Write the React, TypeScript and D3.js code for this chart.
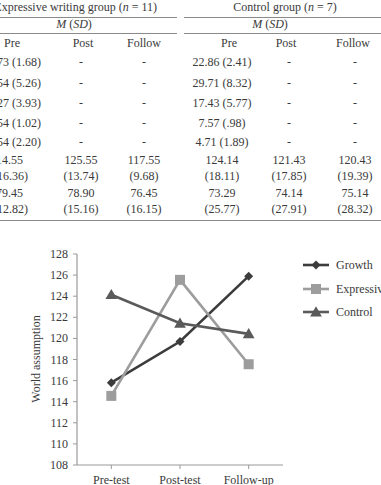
import React from "react";
import * as d3 from "d3";

// ---------- Table data ----------
const groupHeaders = ["Expressive writing group (n = 11)", "Control group (n = 7)"];
const statHeader = "M (SD)";
const phaseHeaders = ["Pre", "Post", "Follow"];
// visible (cropped) first column of expressive group
const expressivePre = ["73 (1.68)", "54 (5.26)", "27 (3.93)", "54 (1.02)", "54 (2.20)"];
const expressivePost = ["-", "-", "-", "-", "-"];
const expressiveFollow = ["-", "-", "-", "-", "-"];
const controlPre = ["22.86 (2.41)", "29.71 (8.32)", "17.43 (5.77)", "7.57 (.98)", "4.71 (1.89)"];
const controlPost = ["-", "-", "-", "-", "-"];
const controlFollow = ["-", "-", "-", "-", "-"];
// two-line rows: [mean, (sd)]
const worldRowExpressive = [["14.55", "16.36)"], ["125.55", "(13.74)"], ["117.55", "(9.68)"]];
const worldRowControl = [["124.14", "(18.11)"], ["121.43", "(17.85)"], ["120.43", "(19.39)"]];
const lastRowExpressive = [["79.45", "12.82)"], ["78.90", "(15.16)"], ["76.45", "(16.15)"]];
const lastRowControl = [["73.29", "(25.77)"], ["74.14", "(27.91)"], ["75.14", "(28.32)"]];

// ---------- Chart data ----------
const phases = ["Pre-test", "Post-test", "Follow-up"];
const seriesNames = ["Growth", "Expressive", "Control"];
const growthValues = [115.8, 119.7, 125.9];
const expressiveValues = [114.55, 125.55, 117.55];
const controlValues = [124.14, 121.43, 120.43];
const yTicks = [108, 110, 112, 114, 116, 118, 120, 122, 124, 126, 128];
const yLabel = "World assumption";

const FONT = "'Liberation Serif', 'Times New Roman', serif";
const TXT = "#3a3a3a";

export default function App() {
  const W = 381, H = 485;
  const y = d3.scaleLinear().domain([108, 128]).range([465, 254]);
  const x = d3.scalePoint<string>().domain(phases).range([77, 283]).padding(0.5);

  const series = [
    { name: seriesNames[0], values: growthValues, color: "#3c3c3c", sym: "diamond" },
    { name: seriesNames[1], values: expressiveValues, color: "#9d9d9d", sym: "square" },
    { name: seriesNames[2], values: controlValues, color: "#5a5a5a", sym: "triangle" },
  ];
  const line = d3.line<number>().x((_, i) => x(phases[i]) as number).y((v) => y(v));

  const marker = (sym: string, cx: number, cy: number, color: string, key: string) => {
    if (sym === "diamond") {
      const p = d3.symbol(d3.symbolSquare, 40)() as string;
      return <path key={key} d={p} transform={`translate(${cx},${cy}) rotate(45)`} fill={color} />;
    }
    if (sym === "square") {
      const p = d3.symbol(d3.symbolSquare, 100)() as string;
      return <path key={key} d={p} transform={`translate(${cx},${cy})`} fill={color} />;
    }
    const p = d3.symbol(d3.symbolTriangle, 60)() as string;
    return <path key={key} d={p} transform={`translate(${cx},${cy + 1})`} fill={color} />;
  };

  // table geometry
  const colX = [12, 81, 144, 222, 289, 355];
  const headX = [12, 83, 144, 229, 286, 353];
  const rowY = [66, 87, 107, 127, 146];

  const cols: string[][] = [expressivePre, expressivePost, expressiveFollow, controlPre, controlPost, controlFollow];
  const twoRows = [
    { data: [...worldRowExpressive, ...worldRowControl], y1: 164, y2: 180 },
    { data: [...lastRowExpressive, ...lastRowControl], y1: 197, y2: 213 },
  ];

  return (
    <svg width={W} height={H} style={{ position: "absolute", left: 0, top: 0, background: "#fff" }} fontFamily={FONT}>
      <rect width={W} height={H} fill="#fff" />
      {/* ---------- table ---------- */}
      <g fontSize={12} fill={TXT}>
        <text x={157} y={11} textAnchor="end">
          {groupHeaders[0].replace(/\(n = 11\)/, "")}(<tspan fontStyle="italic">n</tspan> = 11)
        </text>
        <text x={285} y={11} textAnchor="middle">
          Control group (<tspan fontStyle="italic">n</tspan> = 7)
        </text>
        <line x1={0} x2={177} y1={17.5} y2={17.5} stroke="#8a8a8a" strokeWidth={1} />
        <line x1={184} x2={381} y1={17.5} y2={17.5} stroke="#8a8a8a" strokeWidth={1} />
        {[74, 270].map((cx, i) => (
          <text key={i} x={cx} y={28} textAnchor="middle">
            <tspan fontStyle="italic">M</tspan> (<tspan fontStyle="italic">SD</tspan>)
          </text>
        ))}
        <line x1={0} x2={177} y1={33.5} y2={33.5} stroke="#8a8a8a" strokeWidth={1} />
        <line x1={184} x2={381} y1={33.5} y2={33.5} stroke="#8a8a8a" strokeWidth={1} />
        {[...phaseHeaders, ...phaseHeaders].map((h, i) => (
          <text key={i} x={headX[i]} y={47} textAnchor="middle">{h}</text>
        ))}
        {cols.map((col, ci) =>
          col.map((v, ri) =>
            ci === 0 ? (
              <text key={`${ci}-${ri}`} x={41} y={rowY[ri]} textAnchor="end">{v}</text>
            ) : (
              <text key={`${ci}-${ri}`} x={v === "-" ? colX[ci] : colX[ci]} y={rowY[ri]} textAnchor="middle">{v}</text>
            )
          )
        )}
        {twoRows.map((r, k) =>
          r.data.map((d, ci) =>
            ci === 0 ? (
              <g key={`${k}-${ci}`}>
                <text x={23} y={r.y1} textAnchor="end">{d[0]}</text>
                <text x={28} y={r.y2} textAnchor="end">{d[1]}</text>
              </g>
            ) : (
              <g key={`${k}-${ci}`}>
                <text x={colX[ci]} y={r.y1} textAnchor="middle">{d[0]}</text>
                <text x={colX[ci]} y={r.y2} textAnchor="middle">{d[1]}</text>
              </g>
            )
          )
        )}
        <line x1={0} x2={381} y1={220.5} y2={220.5} stroke="#8a8a8a" strokeWidth={1.2} />
      </g>

      {/* ---------- chart ---------- */}
      <g fontSize={12} fill={TXT}>
        <line x1={77} x2={77} y1={254} y2={465} stroke="#9a9a9a" strokeWidth={1.2} />
        <line x1={77} x2={283} y1={465} y2={465} stroke="#9a9a9a" strokeWidth={1.2} />
        {yTicks.map((t) => (
          <g key={t}>
            <line x1={73} x2={77} y1={y(t)} y2={y(t)} stroke="#9a9a9a" strokeWidth={1} />
            <text x={68} y={y(t) + 4} textAnchor="end">{t}</text>
          </g>
        ))}
        {phases.map((p) => (
          <g key={p}>
            <line x1={x(p)} x2={x(p)} y1={465} y2={469} stroke="#9a9a9a" strokeWidth={1} />
            <text x={x(p)} y={484} textAnchor="middle">{p}</text>
          </g>
        ))}
        <text transform={`translate(40,359) rotate(-90)`} textAnchor="middle">{yLabel}</text>

        {series.map((s) => (
          <path key={s.name} d={line(s.values) as string} fill="none" stroke={s.color} strokeWidth={2.6} />
        ))}
        {series.map((s) => s.values.map((v, i) => marker(s.sym, x(phases[i]) as number, y(v), s.color, `${s.name}-${i}`)))}

        {series.map((s, i) => {
          const ly = [265, 289, 312][i];
          return (
            <g key={`leg-${s.name}`}>
              <line x1={303} x2={329} y1={ly} y2={ly} stroke={s.color} strokeWidth={2.6} />
              {marker(s.sym, 316, ly, s.color, `lm-${i}`)}
              <text x={336} y={ly + 4}>{s.name}</text>
            </g>
          );
        })}
      </g>
    </svg>
  );
}
